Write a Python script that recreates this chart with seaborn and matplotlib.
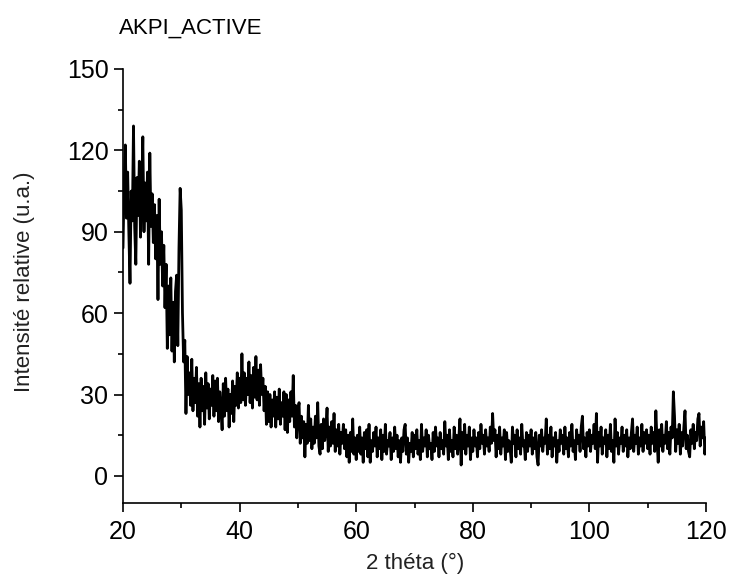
import numpy as np
import pandas as pd
import matplotlib
matplotlib.use("Agg")
import matplotlib.pyplot as plt
import seaborn as sns
from matplotlib.ticker import MultipleLocator

two_theta_start = 20.0
two_theta_step = 0.2

seg_20_30 = [84, 108, 122, 95, 112, 90, 71, 105, 94, 129,
             92, 78, 110, 96, 116, 88, 104, 125, 90, 108,
             94, 112, 78, 119, 92, 104, 86, 100, 80, 96,
             65, 102, 78, 90, 70, 85, 62, 78, 47, 70,
             52, 73, 46, 64, 42, 68, 74, 48, 84, 106]
seg_30_40 = [98, 60, 42, 50, 23, 44, 30, 38, 26, 43,
             24, 36, 27, 40, 22, 34, 18, 36, 24, 33,
             19, 38, 25, 34, 21, 32, 26, 37, 22, 35,
             24, 36, 20, 31, 25, 17, 34, 22, 36, 24,
             32, 18, 30, 23, 35, 20, 33, 26, 38, 25]
seg_40_50 = [36, 27, 45, 28, 38, 26, 36, 30, 42, 27,
             37, 25, 40, 29, 44, 28, 39, 26, 41, 30,
             36, 24, 33, 19, 31, 20, 30, 18, 28, 22,
             31, 18, 29, 21, 32, 19, 27, 22, 31, 17,
             30, 16, 28, 20, 31, 22, 37, 18, 26, 14]
seg_50_60 = [24, 27, 12, 22, 14, 20, 7, 19, 12, 26,
             13, 21, 10, 18, 12, 22, 14, 27, 11, 8,
             19, 10, 21, 13, 17, 25, 9, 18, 11, 20,
             12, 23, 9, 17, 11, 19, 8, 16, 12, 19,
             10, 17, 7, 15, 5, 16, 9, 21, 8, 14]
seg_60_70 = [6, 15, 9, 18, 8, 14, 5, 16, 10, 17,
             7, 19, 5, 13, 9, 16, 11, 18, 7, 14,
             10, 17, 6, 15, 9, 19, 8, 13, 11, 16,
             6, 14, 9, 18, 10, 15, 7, 13, 5, 14,
             9, 17, 19, 8, 14, 5, 12, 9, 16, 7]
seg_70_80 = [15, 10, 17, 8, 13, 6, 19, 9, 14, 11,
             17, 7, 15, 10, 12, 6, 16, 9, 18, 11,
             14, 7, 16, 10, 13, 8, 20, 11, 15, 6,
             17, 9, 13, 7, 18, 10, 15, 8, 14, 21,
             4, 16, 10, 19, 8, 15, 11, 18, 6, 14]
seg_80_90 = [9, 17, 11, 14, 7, 16, 10, 19, 12, 15,
             8, 17, 11, 14, 9, 18, 12, 23, 13, 17,
             7, 15, 10, 18, 8, 14, 11, 17, 6, 16,
             9, 13, 10, 5, 18, 12, 15, 7, 17, 10,
             14, 8, 19, 11, 13, 6, 16, 9, 15, 11]
seg_90_100 = [17, 8, 14, 10, 16, 7, 4, 15, 11, 17,
              9, 14, 12, 21, 8, 15, 10, 18, 7, 14,
              11, 16, 5, 13, 9, 17, 12, 15, 8, 18,
              10, 14, 7, 16, 11, 19, 9, 13, 6, 17,
              12, 15, 9, 18, 22, 10, 14, 7, 16, 11]
seg_100_110 = [17, 9, 15, 12, 19, 10, 23, 5, 16, 11,
               18, 8, 14, 12, 17, 7, 15, 10, 19, 9,
               13, 5, 21, 11, 16, 8, 14, 12, 18, 9,
               15, 11, 17, 7, 14, 10, 16, 21, 9, 15,
               12, 18, 8, 14, 11, 19, 9, 16, 12, 17]
seg_110_120 = [10, 15, 8, 18, 12, 16, 9, 24, 13, 5,
               17, 11, 19, 9, 15, 12, 20, 10, 16, 8,
               18, 14, 31, 22, 9, 17, 12, 19, 8, 16,
               11, 18, 24, 10, 15, 9, 7, 17, 12, 19,
               10, 16, 13, 21, 23, 11, 18, 14, 20, 8,
               14]

intensity = (seg_20_30 + seg_30_40 + seg_40_50 + seg_50_60 + seg_60_70 +
             seg_70_80 + seg_80_90 + seg_90_100 + seg_100_110 + seg_110_120)
two_theta = np.round(two_theta_start + two_theta_step * np.arange(len(intensity)), 1)

title_text = "AKPI_ACTIVE"
x_label = "2 théta (°)"
y_label = "Intensité relative (u.a.)"
x_ticks = [20, 40, 60, 80, 100, 120]
y_ticks = [0, 30, 60, 90, 120, 150]

df = pd.DataFrame({"two_theta": two_theta, "intensity": intensity})

# ---- style ----
sns.set_style("ticks")
plt.rcParams["font.family"] = ["Liberation Sans", "DejaVu Sans"]

W, H = 730, 575
L, R, T, B = 123, 706, 69, 503
fig = plt.figure(figsize=(W / 100, H / 100), dpi=100)
ax = fig.add_axes([L / W, 1 - B / H, (R - L) / W, (B - T) / H])

sns.lineplot(data=df, x="two_theta", y="intensity", estimator=None, sort=False,
             color="black", linewidth=2.0, ax=ax)

ax.set_xlim(20, 120)
ax.set_ylim(-10, 150)
ax.set_xticks(x_ticks)
ax.set_yticks(y_ticks)
ax.xaxis.set_minor_locator(MultipleLocator(10))
ax.yaxis.set_minor_locator(MultipleLocator(15))
ax.tick_params(axis="both", which="major", direction="out", length=6.5, width=1.2,
               labelsize=18, pad=4, color="black", labelcolor="black")
ax.tick_params(axis="both", which="minor", direction="out", length=3.5, width=1.2,
               color="black")
ax.tick_params(axis="x", which="major", pad=6)

for side in ["top", "right"]:
    ax.spines[side].set_visible(False)
for side in ["left", "bottom"]:
    ax.spines[side].set_linewidth(1.2)
    ax.spines[side].set_color("black")

ax.set_xlabel(x_label, fontsize=16, color="#222222")
ax.set_ylabel(y_label, fontsize=16, color="#222222")
ax.xaxis.set_label_coords((415 - L) / (R - L), -(553 - B) / (B - T))
ax.yaxis.set_label_coords(-(L - 35) / (R - L), (B - 282) / (B - T))

fig.text(119 / W, 1 - 28 / H, title_text, fontsize=16, ha="left", va="center",
         color="black")

fig.savefig("out.png", dpi=100)
